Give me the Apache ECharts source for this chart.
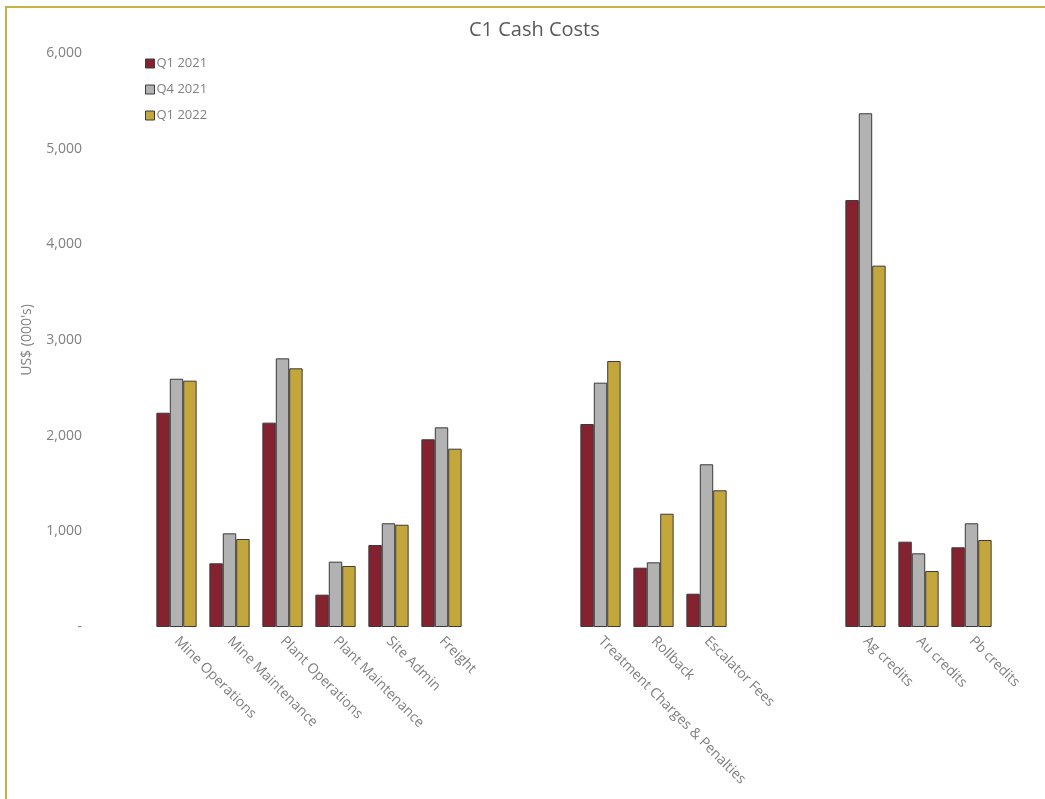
<!DOCTYPE html>
<html>
<head>
<meta charset="utf-8">
<script src="https://cdn.jsdelivr.net/npm/echarts@6/dist/echarts.min.js"></script>
<style>
  html, body { margin: 0; padding: 0; background: #fff; }
  #frame { position: absolute; left: 5px; top: 6px; width: 1045px; height: 799px;
           border-top: 2px solid #c8b045; border-left: 2px solid #c8b045; }
  #chart { position: absolute; left: 0; top: 0; width: 1045px; height: 799px; }
</style>
</head>
<body>
<div id="frame"></div>
<div id="chart"></div>
<script>
(function() {
  // blank entries are the gaps between the cost groups
  var categories = ['Mine Operations', 'Mine Maintenance', 'Plant Operations', 'Plant Maintenance', 'Site Admin', 'Freight',
                    '', '',
                    'Treatment Charges & Penalties', 'Rollback', 'Escalator Fees',
                    '', '',
                    'Ag credits', 'Au credits', 'Pb credits'];
  var seriesNames = ['Q1 2021', 'Q4 2021', 'Q1 2022'];
  var q1_2021 = [2240, 666, 2136, 338, 857, 1962, null, null, 2122, 620, 348, null, null, 4463, 892, 833];
  var q4_2021 = [2595, 979, 2808, 683, 1084, 2087, null, null, 2554, 676, 1701, null, null, 5370, 770, 1084];
  var q1_2022 = [2575, 920, 2704, 638, 1069, 1864, null, null, 2780, 1184, 1429, null, null, 3777, 585, 909];
  var colors = ['#85222f', '#b2b2b2', '#c4a73c'];

  var font = '"Open Sans", sans-serif';
  var grey = '#808080';

  var chart = echarts.init(document.getElementById('chart'), null, { renderer: 'canvas' });

  var series = [q1_2021, q4_2021, q1_2022].map(function(d, i) {
    return {
      name: seriesNames[i],
      type: 'bar',
      data: d,
      barGap: '0%',
      barCategoryGap: '24%',
      itemStyle: { color: colors[i], borderColor: '#3a3a3a', borderWidth: 1 }
    };
  });

  chart.setOption({
    animation: false,
    textStyle: { fontFamily: font },
    title: {
      text: 'C1 Cash Costs',
      left: 464,
      top: 15,
      textStyle: { color: '#595959', fontSize: 20, fontWeight: 'normal', fontFamily: font }
    },
    legend: {
      data: seriesNames,
      orient: 'vertical',
      left: 140,
      top: 52,
      itemWidth: 9,
      itemHeight: 9,
      itemGap: 13,
      icon: 'rect',
      itemStyle: { borderColor: '#3a3a3a', borderWidth: 1 },
      textStyle: { color: grey, fontSize: 13, padding: [0, 0, 0, -3] }
    },
    grid: { left: 150, right: 47, top: 53, bottom: 172 },
    xAxis: {
      type: 'category',
      data: categories,
      axisLine: { show: false },
      axisTick: { show: false },
      axisLabel: {
        interval: 0,
        rotate: -45,
        color: grey,
        fontSize: 14,
        margin: 12
      }
    },
    yAxis: {
      type: 'value',
      min: 0,
      max: 6000,
      interval: 1000,
      name: "US$ (000's)",
      nameLocation: 'middle',
      nameGap: 116,
      nameTextStyle: { color: grey, fontSize: 14 },
      axisLine: { show: false },
      axisTick: { show: false },
      splitLine: { show: false },
      axisLabel: {
        color: grey,
        fontSize: 14,
        margin: 68,
        formatter: function(v) {
          return v === 0 ? '-' : v.toLocaleString('en-US');
        }
      }
    },
    series: series
  });

  window.addEventListener('resize', function() { chart.resize(); });
})();
</script>
</body>
</html>
